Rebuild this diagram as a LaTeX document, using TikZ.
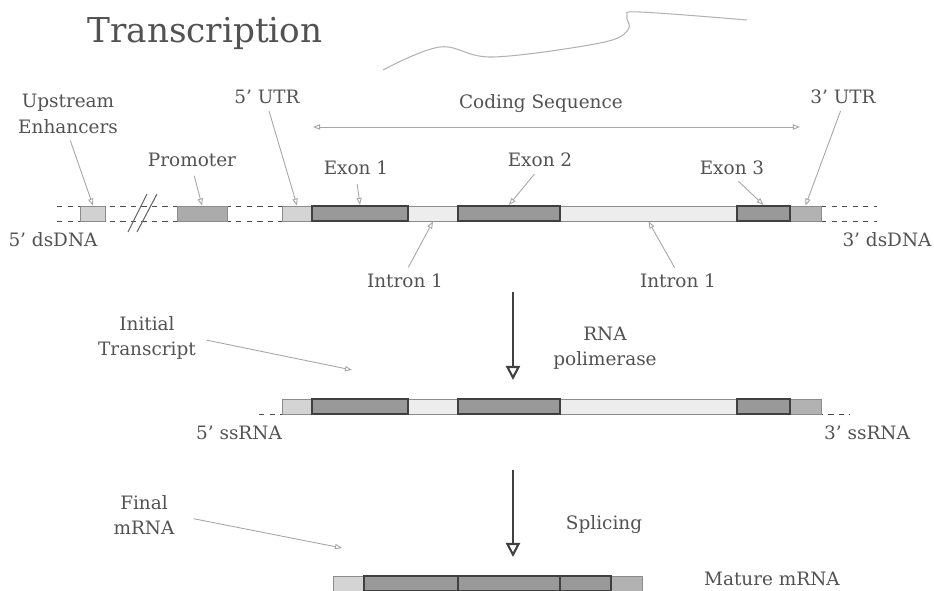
\documentclass[tikz,border=0pt]{standalone}
\usepackage{fontspec}
\setmainfont{DejaVu Serif}
\usepackage{tikz}
\usetikzlibrary{arrows.meta}

\begin{document}
\begin{tikzpicture}[x=0.02cm, y=-0.02cm,
    rotulo/.style={text=black!68, font=\fontsize{10.5}{14.5}\selectfont, align=center, inner sep=0pt},
    seta/.style={draw=black!35, line width=0.5pt, -{Triangle[open, length=4pt, width=3pt]}},
    caixa/.style={draw=black!45, line width=0.5pt, minimum height=0.3cm, inner sep=0pt},
    utrcinco/.style={caixa, fill=black!17},
    utrtres/.style={caixa, fill=black!30},
    intron/.style={caixa, fill=black!7},
    exon/.style={draw=black!75, line width=1.2pt, fill=black!40, minimum height=0.3cm, inner sep=0pt},
    passo/.style={draw=black!75, line width=1.2pt, -{Triangle[open, length=8pt, width=8pt]}}]

    \useasboundingbox (0,0) rectangle (934,591);

    \node[text=black!68, font=\fontsize{19.5}{22}\selectfont] (titulo) at (205,33) {Transcription};
    \draw[black!30, line width=0.6pt] plot[smooth, tension=0.6] coordinates
        {(383,70) (440,47) (493,57) (600,43) (628,30) (627,16) (640,12) (747,20)};

    % fitas do dsDNA
    \foreach \y in {206, 221} {
        \draw[dashed, black!70] (57,\y) -- (282,\y);
        \draw[dashed, black!70] (821,\y) -- (877,\y);
    }
    \draw[dashed, black!70] (259,414) -- (850,414);
    \draw[black!60, line width=0.6pt] (128,232) -- (147,194);
    \draw[black!60, line width=0.6pt] (137,232) -- (157,194);

    \node[caixa, fill=black!18, minimum width=0.5cm] (enh) at (93,213.5) {};
    \node[caixa, fill=black!33, minimum width=1cm] (prom) at (202,213.5) {};

    \foreach \r/\yc in {a/213.5, b/406.5}
        \foreach \n/\xa/\xb/\est in {u5/282/312/utrcinco, i1/408/458/intron, i2/560/737/intron,
                                     u3/790/821/utrtres, e1/312/408/exon, e2/458/560/exon, e3/737/790/exon}
            \node[\est, minimum width={(\xb-\xa)*0.02cm}] (\n\r) at ({(\xa+\xb)/2},\yc) {};

    \foreach \n/\xa/\xb/\est in {u5/333/364/utrcinco, u3/611/642/utrtres,
                                 e1/364/458/exon, e2/458/560/exon, e3/560/611/exon}
        \node[\est, minimum width={(\xb-\xa)*0.02cm}] (\n c) at ({(\xa+\xb)/2},583.5) {};

    \node[rotulo] (enhT) at (68,114) {Upstream\\Enhancers};
    \node[rotulo] (promT) at (192,160) {Promoter};
    \node[rotulo] (u5T) at (267,97) {5' UTR};
    \node[rotulo] (csT) at (541,104) {Coding Sequence};
    \node[rotulo] (e1T) at (356,168) {Exon 1};
    \node[rotulo] (e2T) at (540,160) {Exon 2};
    \node[rotulo] (e3T) at (732,168) {Exon 3};
    \node[rotulo] (u3T) at (843,97) {3' UTR};
    \node[rotulo] (dsA) at (53,240) {5' dsDNA};
    \node[rotulo] (dsB) at (887,240) {3' dsDNA};
    \node[rotulo] (i1T) at (405,281) {Intron 1};
    \node[rotulo] (i2T) at (678,281) {Intron 1};
    \node[rotulo] (iniT) at (147,338) {Initial\\Transcript};
    \node[rotulo] (polT) at (605,348) {RNA\\polimerase};
    \node[rotulo] (ssA) at (239,433) {5' ssRNA};
    \node[rotulo] (ssB) at (867,433) {3' ssRNA};
    \node[rotulo] (finT) at (144,515) {Final\\mRNA};
    \node[rotulo] (splT) at (604,525) {Splicing};
    \node[rotulo] (matT) at (772,579) {Mature mRNA};

    \coordinate (csA) at (313,127);
    \coordinate (csB) at (800,127);
    \coordinate (iniP) at (352,370);
    \coordinate (finP) at (342,548);
    \coordinate (pA) at (513,292);
    \coordinate (pB) at (513,380);
    \coordinate (sA) at (513,470);
    \coordinate (sB) at (513,557);

    \draw[seta, {Triangle[open, length=4pt, width=3pt]}-{Triangle[open, length=4pt, width=3pt]}] (csA) -- (csB);
    \draw[seta, shorten <=4pt] (enhT.south) -- (enh.north);
    \draw[seta, shorten <=5pt] (promT.south) -- (prom.north);
    \draw[seta, shorten <=4pt] (u5T.south) -- (u5a.north);
    \draw[seta, shorten <=5pt] (e1T.south) -- (e1a.north);
    \draw[seta, shorten <=5pt] (e2T.south) -- (e2a.north);
    \draw[seta, shorten <=5pt] (e3T.south) -- (e3a.north);
    \draw[seta, shorten <=4pt] (u3T.south) -- (u3a.north);
    \draw[seta, shorten <=4pt] (i1T.north) -- (i1a.south);
    \draw[seta, shorten <=4pt] (i2T.north) -- (i2a.south);
    \draw[seta, shorten <=6pt] (iniT.east) -- (iniP);
    \draw[seta, shorten <=11pt] (finT.east) -- (finP);

    \draw[passo] (pA) -- (pB);
    \draw[passo] (sA) -- (sB);

\end{tikzpicture}
\end{document}
